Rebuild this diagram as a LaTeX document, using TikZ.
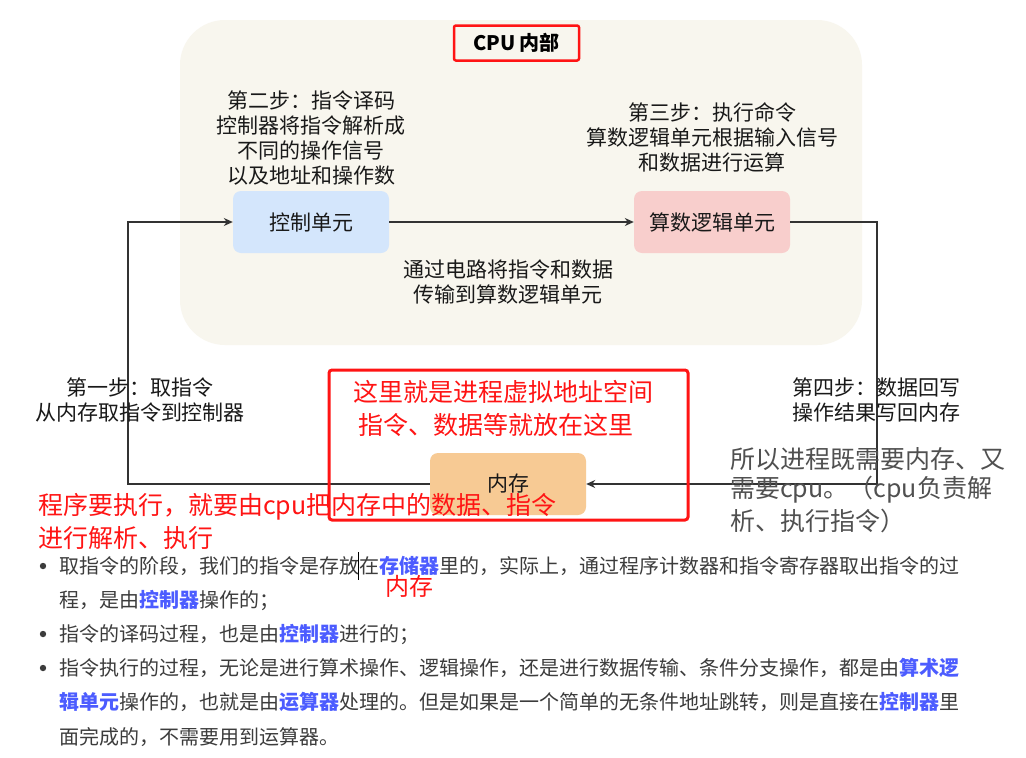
\documentclass[tikz,border=0pt]{standalone}
\usepackage{fontspec}
\setmainfont{Noto Sans CJK SC}
\usepackage{xcolor}
\usepackage{tikz}
\usetikzlibrary{arrows.meta}

\definecolor{cpubg}{RGB}{248,246,238}
\definecolor{ctrlblue}{RGB}{212,230,252}
\definecolor{alupink}{RGB}{248,206,204}
\definecolor{memorange}{RGB}{247,202,148}
\definecolor{linegray}{RGB}{51,51,51}
\definecolor{notered}{RGB}{255,20,20}
\definecolor{kwblue}{RGB}{76,92,255}
\definecolor{bodygray}{RGB}{60,60,60}
\definecolor{notegray}{RGB}{80,80,80}

\newcommand{\hlword}[1]{{\bfseries\color{kwblue}#1}}

\begin{document}
\begin{tikzpicture}[x=1pt,y=-1pt,>={Stealth[length=9pt,width=8pt]},
  unitbox/.style={rounded corners=8pt,minimum width=156pt,minimum height=62pt,inner sep=0pt,text=black!90,font=\fontsize{21}{25}\selectfont},
  steplabel/.style={align=center,inner sep=0pt,text=black!90,font=\fontsize{21}{25}\selectfont},
  redtext/.style={anchor=west,inner sep=0pt,text=notered,font=\fontsize{25}{30}\selectfont},
  graytext/.style={anchor=west,inner sep=0pt,text=notegray,font=\fontsize{25}{30}\selectfont},
  bodytext/.style={anchor=west,inner sep=0pt,text=bodygray,font=\fontsize{20}{24}\selectfont},
  wire/.style={draw=linegray,line width=1.3pt}]
\useasboundingbox[fill=white] (0,0) rectangle (1026,758);

\fill[cpubg, rounded corners=45pt] (180,20) rectangle (862,345);
\node[draw=notered, line width=2.5pt, rounded corners=2pt, minimum width=125pt, minimum height=35pt,
  font=\fontsize{20}{24}\selectfont\bfseries] (title) at (516.5,43) {CPU\ 内部};

\node[unitbox, fill=ctrlblue] (ctrl) at (311,222) {控制单元};
\node[unitbox, fill=alupink] (alu) at (712,222) {算数逻辑单元};
\node[unitbox, fill=memorange] (mem) at (508,484) {内存};

\coordinate (rt) at (877,222);
\coordinate (lt) at (128,222);
\draw[wire,->] (ctrl.east) -- (alu.west);
\draw[wire,->] (alu.east) -- (rt) |- (mem.east);
\draw[wire,->] (mem.west) -| (lt) -- (ctrl.west);

\draw[notered, line width=3pt, rounded corners=3pt] (329,370) rectangle (688,520);

\node[steplabel] (step2) at (311,138) {第二步：指令译码\\控制器将指令解析成\\不同的操作信号\\以及地址和操作数};
\node[steplabel] (step3) at (712,137) {第三步：执行命令\\算数逻辑单元根据输入信号\\和数据进行运算};
\node[steplabel] (bus) at (508,282) {通过电路将指令和数据\\传输到算数逻辑单元};
\node[steplabel] (step1) at (140,400) {第一步：取指令\\从内存取指令到控制器};
\node[steplabel] (step4) at (876,400) {第四步：数据回写\\操作结果写回内存};

\node[redtext] (va1) at (353,392) {这里就是进程虚拟地址空间};
\node[redtext] (va2) at (358,425) {指令、数据等就放在这里};
\node[redtext] (run1) at (38,507) {程序要执行，就要由cpu把内存中的数据、指令};
\node[redtext] (run2) at (38,538) {进行解析、执行};
\node[graytext] (both1) at (730,459) {所以进程既需要内存、又};
\node[graytext] (both2) at (730,490) {需要cpu。（cpu负责解};
\node[graytext] (both3) at (730,521) {析、执行指令）};

\foreach \y in {566,634,668}
  \fill[bodygray] (43,\y) circle (3.2pt);
\node[bodytext] (b1a) at (59,566) {取指令的阶段，我们的指令是存放在\hlword{存储器}里的，实际上，通过程序计数器和指令寄存器取出指令的过};
\node[bodytext] (b1b) at (59,600) {程，是由\hlword{控制器}操作的；};
\node[bodytext] (b2) at (59,634) {指令的译码过程，也是由\hlword{控制器}进行的；};
\node[bodytext] (b3a) at (59,668) {指令执行的过程，无论是进行算术操作、逻辑操作，还是进行数据传输、条件分支操作，都是由\hlword{算术逻}};
\node[bodytext] (b3b) at (59,702) {\hlword{辑单元}操作的，也就是由\hlword{运算器}处理的。但是如果是一个简单的无条件地址跳转，则是直接在\hlword{控制器}里};
\node[bodytext] (b3c) at (59,737) {面完成的，不需要用到运算器。};
\node[inner sep=0pt, text=notered, font=\fontsize{24}{28}\selectfont] (memnote) at (409,586) {内存};
\draw[black, line width=0.6pt] (358,552) -- (358,580);
\end{tikzpicture}
\end{document}
